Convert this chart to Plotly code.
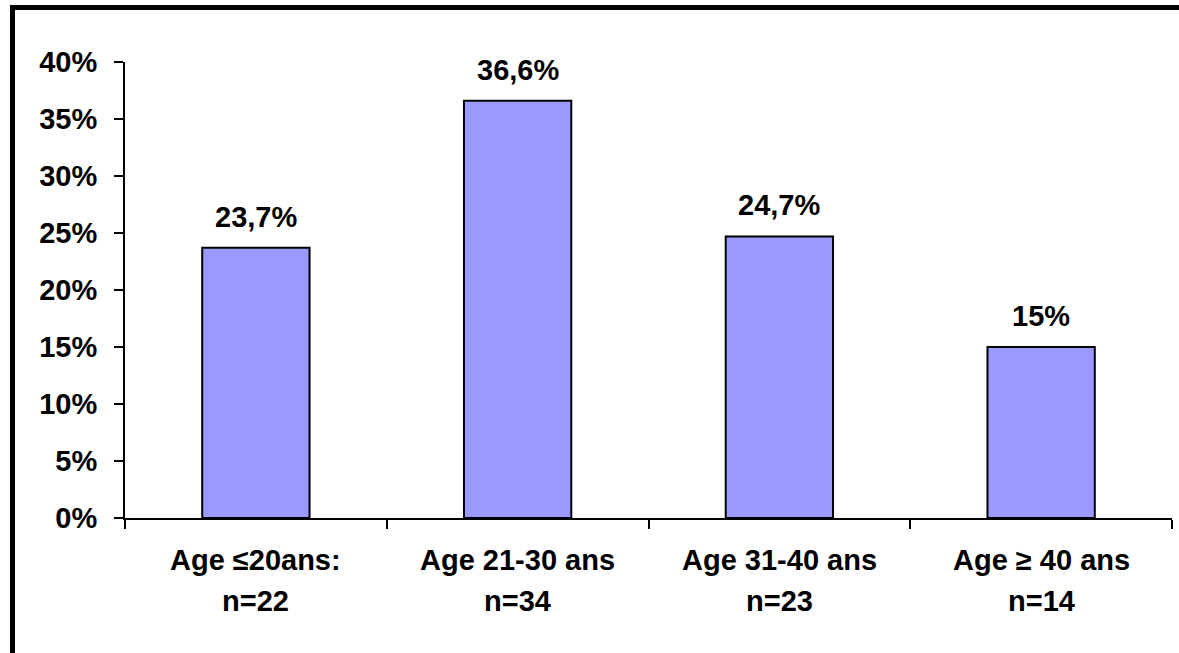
import plotly.graph_objects as go

categories = ["Age ≤20ans:", "Age 21-30 ans", "Age 31-40 ans", "Age ≥ 40 ans"]
counts = ["n=22", "n=34", "n=23", "n=14"]
values = [23.7, 36.6, 24.7, 15.0]
value_labels = ["23,7%", "36,6%", "24,7%", "15%"]
y_tickvals = [0, 5, 10, 15, 20, 25, 30, 35, 40]
y_ticktext = ["0%", "5%", "10%", "15%", "20%", "25%", "30%", "35%", "40%"]

W, H = 1179, 653
L, R, T, B = 125, 7, 62, 135
pw, ph = W - L - R, H - T - B

FONT = "Liberation Sans, Arial, sans-serif"
FS = 29

fig = go.Figure()
fig.add_trace(go.Bar(
    x=categories, y=values,
    marker=dict(color="#9999FF", line=dict(color="black", width=2)),
    hoverinfo="skip",
))

annotations = []
for c, v, t in zip(categories, values, value_labels):
    annotations.append(dict(x=c, y=v, xref="x", yref="y", text=t, showarrow=False,
                            yanchor="middle", yshift=31,
                            font=dict(family=FONT, size=FS, color="black", weight="bold")))
for c, line1, line2 in zip(categories, categories, counts):
    annotations.append(dict(x=c, y=(518 - 560) / ph, xref="x", yref="paper", text=line1,
                            showarrow=False, yanchor="middle",
                            font=dict(family=FONT, size=FS, color="black", weight="bold")))
    annotations.append(dict(x=c, y=(518 - 601) / ph, xref="x", yref="paper", text=line2,
                            showarrow=False, yanchor="middle",
                            font=dict(family=FONT, size=FS, color="black", weight="bold")))

def px_x(p):
    return (p - L) / pw

def px_y(p):
    return (H - B - p) / ph

shapes = [
    dict(type="line", xref="paper", yref="paper", x0=px_x(12.5), x1=px_x(12.5),
         y0=px_y(5), y1=px_y(660), line=dict(color="black", width=5)),
    dict(type="line", xref="paper", yref="paper", x0=px_x(10), x1=px_x(1190),
         y0=px_y(7.5), y1=px_y(7.5), line=dict(color="black", width=5)),
]

fig.update_layout(
    width=W, height=H,
    margin=dict(l=L, r=R, t=T, b=B, pad=0),
    paper_bgcolor="white", plot_bgcolor="white",
    showlegend=False,
    bargap=0.59,
    annotations=annotations,
    shapes=shapes,
    xaxis=dict(type="category", showticklabels=False, ticks="outside", tickson="boundaries",
               ticklen=9, tickwidth=2, tickcolor="black",
               showline=True, linecolor="black", linewidth=2, showgrid=False, zeroline=False),
    yaxis=dict(range=[0, 40], tickvals=y_tickvals, ticktext=y_ticktext,
               ticks="outside", ticklen=9, tickwidth=2, tickcolor="black",
               showline=True, linecolor="black", linewidth=2, showgrid=False, zeroline=False,
               ticklabelstandoff=11,
               tickfont=dict(family=FONT, size=FS, color="black", weight="bold")),
)

fig.write_html("out.html")
